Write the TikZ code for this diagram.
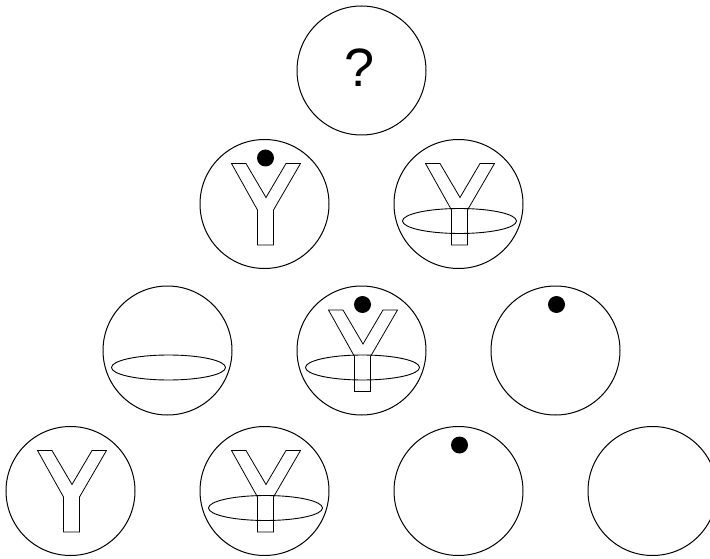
\documentclass[tikz,border=0pt]{standalone}
\usepackage{fontspec}
\setmainfont{Liberation Sans}
\usepackage{tikz}

\tikzset{
  ball/.style={circle, draw, line width=1pt, minimum size=129pt, inner sep=0pt},
  yglyph/.pic={\draw[line width=0.8pt] (-33,-40.5) -- (-18.5,-40.5) -- (1.5,-6.5)
      -- (21.5,-40.5) -- (36,-40.5) -- (9,6) -- (9,41) -- (-7,41) -- (-7,6) -- cycle;},
  dot/.pic={\fill (1,-46) circle (8.5pt);},
  ring/.pic={\draw[line width=0.9pt] (1,17) ellipse [x radius=57pt, y radius=12.5pt];}
}

\begin{document}
\begin{tikzpicture}[x=1pt, y=-1pt]
  \useasboundingbox (0,0) rectangle (710,559);
  \clip (0,0) rectangle (710,559);
  % row 1
  \node[ball] (b11) at (361.5,70.5) {};
  \node[font=\fontsize{54}{54}\selectfont, inner sep=0pt] (qmark) at (359.5,68) {?};
  % row 2
  \node[ball] (b21) at (264.5,204) {};
  \node[ball] (b22) at (458.5,204) {};
  \pic at (b21.center) {yglyph};
  \pic at (b21.center) {dot};
  \pic at (b22.center) {yglyph};
  \pic at (b22.center) {ring};
  % row 3
  \node[ball] (b31) at (167.5,350.5) {};
  \node[ball] (b32) at (361.5,350.5) {};
  \node[ball] (b33) at (555.5,350.5) {};
  \pic at (b31.center) {ring};
  \pic at (b32.center) {yglyph};
  \pic at (b32.center) {dot};
  \pic at (b32.center) {ring};
  \pic at (b33.center) {dot};
  % row 4
  \foreach \i/\x in {1/70.5, 2/264.5, 3/458.5, 4/652.5}
    \node[ball] (b4\i) at (\x,491) {};
  \pic at (b41.center) {yglyph};
  \pic at (b42.center) {yglyph};
  \pic at (b42.center) {ring};
  \pic at (b43.center) {dot};
\end{tikzpicture}
\end{document}
